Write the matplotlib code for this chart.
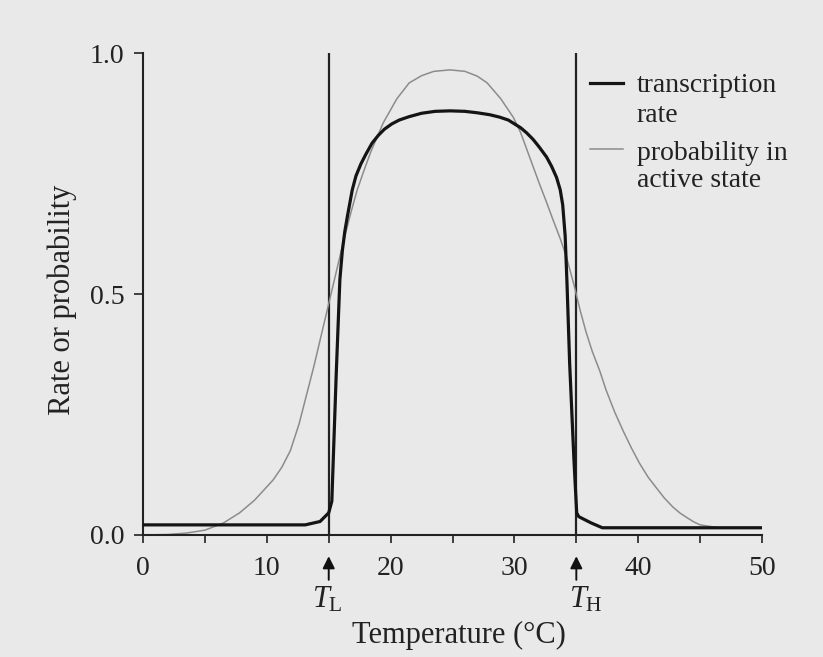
import matplotlib
matplotlib.use("Agg")
import matplotlib.pyplot as plt

# temperature (deg C) and transcription rate
rate_temp = [0, 13.1, 14.3, 15.0, 15.25, 15.6, 15.9, 16.1, 16.3, 16.5, 16.9, 17.2,
             17.6, 18.0, 18.5, 19.0, 19.5, 20.1, 20.7, 21.5, 22.5, 23.6, 24.8,
             26.0, 27.0, 28.0, 28.8, 29.5, 30.0, 30.5, 31.0, 31.5, 32.0, 32.6,
             33.0, 33.4, 33.7, 33.9, 34.1, 34.25, 34.46, 34.8, 35.03, 35.2,
             36.2, 37.1, 50]
rate = [0.021, 0.021, 0.028, 0.046, 0.07, 0.33, 0.53, 0.59, 0.63, 0.66, 0.716,
        0.745, 0.77, 0.79, 0.813, 0.829, 0.842, 0.853, 0.861, 0.868, 0.875, 0.879,
        0.880, 0.879, 0.876, 0.872, 0.867, 0.861, 0.853, 0.845, 0.834, 0.821,
        0.805, 0.784, 0.765, 0.742, 0.716, 0.685, 0.62, 0.52, 0.357, 0.16, 0.046,
        0.038, 0.025, 0.015, 0.015]

# probability in active state
prob_temp = [0, 2, 3.5, 5, 6.5, 7.8, 9.0, 10.0, 10.5, 11.2, 11.9, 12.6, 13.2,
             13.8, 14.4, 15.0, 15.6, 16.2, 16.8, 17.3, 17.9, 18.4, 19.4, 20.5,
             21.5, 22.5, 23.5, 24.8, 26.0, 27.0, 27.8, 28.9, 29.9, 30.5, 31.0,
             31.5, 32.0, 32.6, 33.1, 33.7, 34.2, 34.8, 35.3, 35.8, 36.3, 36.9,
             37.4, 38.1, 38.8, 39.5, 40.1, 40.8, 41.4, 42.1, 42.8, 43.4, 44.0,
             44.5, 45.0, 46.5, 50]
prob = [0.0, 0.001, 0.004, 0.01, 0.025, 0.046, 0.072, 0.1, 0.114, 0.14, 0.175,
        0.23, 0.29, 0.35, 0.415, 0.48, 0.545, 0.61, 0.67, 0.716, 0.76, 0.795,
        0.855, 0.905, 0.938, 0.953, 0.962, 0.965, 0.962, 0.952, 0.938, 0.905,
        0.867, 0.835, 0.80, 0.765, 0.73, 0.69, 0.655, 0.615, 0.577, 0.52, 0.467,
        0.42, 0.38, 0.34, 0.301, 0.255, 0.215, 0.178, 0.149, 0.12, 0.10, 0.077,
        0.058, 0.045, 0.035, 0.027, 0.021, 0.015, 0.015]

t_low = 15
t_high = 35
x_ticks = [0, 5, 10, 15, 20, 25, 30, 35, 40, 45, 50]
x_labels = ["0", "", "10", "", "20", "", "30", "", "40", "", "50"]
y_ticks = [0, 0.5, 1.0]
y_labels = ["0.0", "0.5", "1.0"]

plt.rcParams['font.family'] = ['Liberation Serif', 'DejaVu Serif']
plt.rcParams['mathtext.fontset'] = 'custom'
plt.rcParams['mathtext.rm'] = 'Liberation Serif'
plt.rcParams['mathtext.it'] = 'Liberation Serif:italic'

bg = '#e9e9e9'
fig = plt.figure(figsize=(8.23, 6.57), dpi=100, facecolor=bg)
ax = fig.add_axes([0.1738, 0.1857, 0.7521, 0.7336], facecolor=bg)

ax.plot(prob_temp, prob, color='#8c8c8c', lw=1.1, zorder=2)
ax.plot(rate_temp, rate, color='#141414', lw=2.3, zorder=3)
ax.axvline(t_low, color='#222222', lw=1.6, zorder=1)
ax.axvline(t_high, color='#222222', lw=1.6, zorder=1)

ax.set_xlim(0, 50)
ax.set_ylim(0, 1.0)
for s in ['top', 'right']:
    ax.spines[s].set_visible(False)
for s in ['left', 'bottom']:
    ax.spines[s].set_linewidth(1.5)
    ax.spines[s].set_color('#222222')

ax.set_xticks(x_ticks)
ax.set_xticklabels(x_labels)
ax.set_yticks(y_ticks)
ax.set_yticklabels(y_labels)
ax.tick_params(axis='x', length=6, width=1.2, pad=9, labelsize=20, colors='#222222')
ax.tick_params(axis='y', length=6.5, width=1.2, pad=7, labelsize=20, colors='#222222')

ax.text(-0.131, 0.4875, "Rate or probability", transform=ax.transAxes,
        rotation=90, ha='center', va='center', fontsize=22, color='#222222')
ax.text(0.51, -0.224, "Temperature (°C)", transform=ax.transAxes,
        ha='center', va='baseline', fontsize=22, color='#222222')

# T_L / T_H markers under the axis
for xt, lab_x, lab in [(t_low, 14.9, r"$T_\mathrm{L}$"), (t_high, 35.8, r"$T_\mathrm{H}$")]:
    ax.annotate("", xy=(xt, -0.044), xytext=(xt, -0.093),
                xycoords=('data', 'axes fraction'), textcoords=('data', 'axes fraction'),
                arrowprops=dict(arrowstyle='-|>', color='#111111', lw=1.4,
                                mutation_scale=18, shrinkA=0, shrinkB=0))
    ax.text(lab_x, -0.151, lab, transform=ax.get_xaxis_transform(),
            ha='center', va='baseline', fontsize=22, color='#222222')

# legend
ax.plot([0.722, 0.775], [0.938, 0.938], transform=ax.transAxes, color='#141414',
        lw=2.3, clip_on=False)
ax.plot([0.722, 0.775], [0.801, 0.801], transform=ax.transAxes, color='#8c8c8c',
        lw=1.1, clip_on=False)
leg_lines = [("transcription", 0.919), ("rate", 0.857),
             ("probability in", 0.778), ("active state", 0.722)]
for txt, yy in leg_lines:
    ax.text(0.798, yy, txt, transform=ax.transAxes, ha='left', va='baseline',
            fontsize=20, color='#222222')

fig.savefig("out.png", dpi=100, facecolor=bg)
